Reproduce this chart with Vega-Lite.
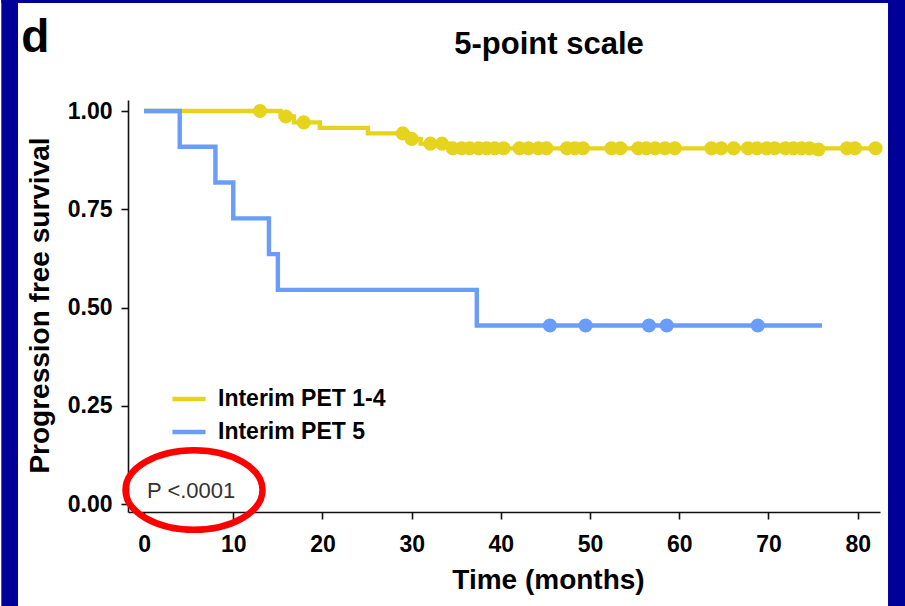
{
  "$schema": "https://vega.github.io/schema/vega-lite/v6.json",
  "width": 752,
  "height": 412,
  "autosize": {"type": "none"},
  "padding": {"left": 128, "top": 100, "right": 25, "bottom": 94},
  "background": "#ffffff",
  "config": {
    "view": {"stroke": null},
    "font": "Liberation Sans",
    "axis": {
      "grid": false,
      "domainColor": "#111111",
      "domainWidth": 1.6,
      "tickColor": "#111111",
      "tickWidth": 1.6,
      "tickSize": 7,
      "labelFont": "Liberation Sans",
      "labelFontSize": 23,
      "labelFontWeight": "bold",
      "labelColor": "#000000",
      "titleFont": "Liberation Sans",
      "titleFontSize": 28,
      "titleFontWeight": "bold",
      "titleColor": "#000000"
    }
  },
  "datasets": {
    "curves": [
      {"group": "Interim PET 1-4", "time": 0, "surv": 1.0},
      {"group": "Interim PET 1-4", "time": 15.3, "surv": 0.986},
      {"group": "Interim PET 1-4", "time": 16.8, "surv": 0.971},
      {"group": "Interim PET 1-4", "time": 19.7, "surv": 0.957},
      {"group": "Interim PET 1-4", "time": 25.1, "surv": 0.943},
      {"group": "Interim PET 1-4", "time": 29.6, "surv": 0.929},
      {"group": "Interim PET 1-4", "time": 31.0, "surv": 0.917},
      {"group": "Interim PET 1-4", "time": 34.2, "surv": 0.905},
      {"group": "Interim PET 1-4", "time": 82.0, "surv": 0.905},
      {"group": "Interim PET 5", "time": 0, "surv": 1.0},
      {"group": "Interim PET 5", "time": 4, "surv": 0.909},
      {"group": "Interim PET 5", "time": 8, "surv": 0.818},
      {"group": "Interim PET 5", "time": 10, "surv": 0.727},
      {"group": "Interim PET 5", "time": 14, "surv": 0.636},
      {"group": "Interim PET 5", "time": 15, "surv": 0.545},
      {"group": "Interim PET 5", "time": 37.3, "surv": 0.4545},
      {"group": "Interim PET 5", "time": 76, "surv": 0.4545}
    ],
    "censored": [
      {"group": "Interim PET 1-4", "time": 13.0, "surv": 1.0},
      {"group": "Interim PET 1-4", "time": 15.9, "surv": 0.986},
      {"group": "Interim PET 1-4", "time": 17.9, "surv": 0.971},
      {"group": "Interim PET 1-4", "time": 29.0, "surv": 0.943},
      {"group": "Interim PET 1-4", "time": 30.0, "surv": 0.929},
      {"group": "Interim PET 1-4", "time": 32.1, "surv": 0.917},
      {"group": "Interim PET 1-4", "time": 33.4, "surv": 0.917},
      {"group": "Interim PET 1-4", "time": 34.6, "surv": 0.905},
      {"group": "Interim PET 1-4", "time": 35.6, "surv": 0.905},
      {"group": "Interim PET 1-4", "time": 36.5, "surv": 0.905},
      {"group": "Interim PET 1-4", "time": 37.5, "surv": 0.905},
      {"group": "Interim PET 1-4", "time": 38.4, "surv": 0.905},
      {"group": "Interim PET 1-4", "time": 39.3, "surv": 0.905},
      {"group": "Interim PET 1-4", "time": 40.3, "surv": 0.905},
      {"group": "Interim PET 1-4", "time": 42.1, "surv": 0.905},
      {"group": "Interim PET 1-4", "time": 43.1, "surv": 0.905},
      {"group": "Interim PET 1-4", "time": 44.2, "surv": 0.905},
      {"group": "Interim PET 1-4", "time": 45.1, "surv": 0.905},
      {"group": "Interim PET 1-4", "time": 47.4, "surv": 0.905},
      {"group": "Interim PET 1-4", "time": 48.3, "surv": 0.905},
      {"group": "Interim PET 1-4", "time": 49.2, "surv": 0.905},
      {"group": "Interim PET 1-4", "time": 52.4, "surv": 0.905},
      {"group": "Interim PET 1-4", "time": 53.4, "surv": 0.905},
      {"group": "Interim PET 1-4", "time": 55.4, "surv": 0.905},
      {"group": "Interim PET 1-4", "time": 56.3, "surv": 0.905},
      {"group": "Interim PET 1-4", "time": 57.3, "surv": 0.905},
      {"group": "Interim PET 1-4", "time": 58.4, "surv": 0.905},
      {"group": "Interim PET 1-4", "time": 59.5, "surv": 0.905},
      {"group": "Interim PET 1-4", "time": 63.6, "surv": 0.905},
      {"group": "Interim PET 1-4", "time": 64.7, "surv": 0.905},
      {"group": "Interim PET 1-4", "time": 66.1, "surv": 0.905},
      {"group": "Interim PET 1-4", "time": 67.7, "surv": 0.905},
      {"group": "Interim PET 1-4", "time": 68.7, "surv": 0.905},
      {"group": "Interim PET 1-4", "time": 69.8, "surv": 0.905},
      {"group": "Interim PET 1-4", "time": 70.7, "surv": 0.905},
      {"group": "Interim PET 1-4", "time": 71.9, "surv": 0.905},
      {"group": "Interim PET 1-4", "time": 72.8, "surv": 0.905},
      {"group": "Interim PET 1-4", "time": 73.7, "surv": 0.905},
      {"group": "Interim PET 1-4", "time": 74.6, "surv": 0.905},
      {"group": "Interim PET 1-4", "time": 75.6, "surv": 0.902},
      {"group": "Interim PET 1-4", "time": 78.8, "surv": 0.905},
      {"group": "Interim PET 1-4", "time": 79.7, "surv": 0.905},
      {"group": "Interim PET 1-4", "time": 82.0, "surv": 0.905},
      {"group": "Interim PET 5", "time": 45.5, "surv": 0.4545},
      {"group": "Interim PET 5", "time": 49.5, "surv": 0.4545},
      {"group": "Interim PET 5", "time": 56.6, "surv": 0.4545},
      {"group": "Interim PET 5", "time": 58.6, "surv": 0.4545},
      {"group": "Interim PET 5", "time": 68.8, "surv": 0.4545}
    ]
  },
  "layer": [
    {
      "data": {"values": [{"panel": "left border"}]},
      "mark": {"type": "rect", "fill": "#000099", "stroke": null},
      "encoding": {
        "x": {"datum": -16, "type": "quantitative"},
        "x2": {"datum": -14.13},
        "y": {"datum": -0.28, "type": "quantitative"},
        "y2": {"datum": 1.3}
      }
    },
    {
      "data": {"values": [{"panel": "right border"}]},
      "mark": {"type": "rect", "fill": "#000099", "stroke": null},
      "encoding": {
        "x": {"datum": 83.4, "type": "quantitative"},
        "x2": {"datum": 86},
        "y": {"datum": -0.28, "type": "quantitative"},
        "y2": {"datum": 1.3}
      }
    },
    {
      "data": {"values": [{"panel": "top border"}]},
      "mark": {"type": "rect", "fill": "#000099", "stroke": null},
      "encoding": {
        "x": {"datum": -16, "type": "quantitative"},
        "x2": {"datum": 86},
        "y": {"datum": 1.2747, "type": "quantitative"},
        "y2": {"datum": 1.3}
      }
    },
    {
      "data": {"name": "curves"},
      "mark": {"type": "line", "interpolate": "step-after", "strokeWidth": 4.4},
      "encoding": {
        "x": {
          "field": "time",
          "type": "quantitative",
          "scale": {"domain": [-1.8, 82.5], "nice": false, "zero": false},
          "axis": {
            "title": "Time (months)",
            "values": [0, 10, 20, 30, 40, 50, 60, 70, 80],
            "labelPadding": 14,
            "titleX": 420,
            "titleY": 68,
            "titleBaseline": "middle",
            "titleAlign": "center"
          }
        },
        "y": {
          "field": "surv",
          "type": "quantitative",
          "scale": {"domain": [-0.02, 1.028], "nice": false, "zero": false},
          "axis": {
            "title": "Progression free survival",
            "values": [0, 0.25, 0.5, 0.75, 1],
            "format": ".2f",
            "labelPadding": 9,
            "titleX": -88,
            "titleY": 205,
            "titleAngle": -90,
            "titleAlign": "center",
            "titleBaseline": "middle"
          }
        },
        "color": {
          "field": "group",
          "type": "nominal",
          "scale": {"domain": ["Interim PET 1-4", "Interim PET 5"], "range": ["#E6D31E", "#6A9CFA"]},
          "legend": {
            "orient": "none",
            "legendX": 42,
            "legendY": 280,
            "title": null,
            "symbolType": "stroke",
            "symbolSize": 1100,
            "symbolStrokeWidth": 4.5,
            "labelFont": "Liberation Sans",
            "labelFontSize": 23,
            "labelFontWeight": "bold",
            "labelColor": "#000000",
            "labelOffset": 10,
            "labelLimit": 0,
            "rowPadding": 2
          }
        }
      }
    },
    {
      "data": {"name": "censored"},
      "mark": {"type": "point", "filled": true, "size": 200, "opacity": 1},
      "encoding": {
        "x": {"field": "time", "type": "quantitative"},
        "y": {"field": "surv", "type": "quantitative"},
        "color": {"field": "group", "type": "nominal"}
      }
    },
    {
      "data": {"values": [{"label": "5-point scale"}]},
      "mark": {"type": "text", "fontSize": 31, "fontWeight": "bold", "align": "center", "baseline": "middle", "color": "#000000"},
      "encoding": {
        "x": {"datum": 45.4, "type": "quantitative"},
        "y": {"datum": 1.168, "type": "quantitative"},
        "text": {"field": "label"}
      }
    },
    {
      "data": {"values": [{"label": "d"}]},
      "mark": {"type": "text", "fontSize": 46, "fontWeight": "bold", "align": "center", "baseline": "middle", "color": "#000000"},
      "encoding": {
        "x": {"datum": -12.2, "type": "quantitative"},
        "y": {"datum": 1.186, "type": "quantitative"},
        "text": {"field": "label"}
      }
    },
    {
      "data": {"values": [{"label": "P <.0001"}]},
      "mark": {"type": "text", "fontSize": 22, "align": "left", "baseline": "middle", "color": "#333333"},
      "encoding": {
        "x": {"datum": 0.33, "type": "quantitative"},
        "y": {"datum": 0.033, "type": "quantitative"},
        "text": {"field": "label"}
      }
    },
    {
      "data": {"values": [{"label": "highlight"}]},
      "mark": {
        "type": "point",
        "filled": false,
        "shape": "M 1 0 C 1 0.32 0.5523 0.58 0 0.58 C -0.5523 0.58 -1 0.32 -1 0 C -1 -0.32 -0.5523 -0.58 0 -0.58 C 0.5523 -0.58 1 -0.32 1 0 Z",
        "size": 18769,
        "stroke": "#FF0000",
        "strokeWidth": 6.5,
        "opacity": 1
      },
      "encoding": {
        "x": {"datum": 5.6, "type": "quantitative"},
        "y": {"datum": 0.036, "type": "quantitative"}
      }
    }
  ]
}
